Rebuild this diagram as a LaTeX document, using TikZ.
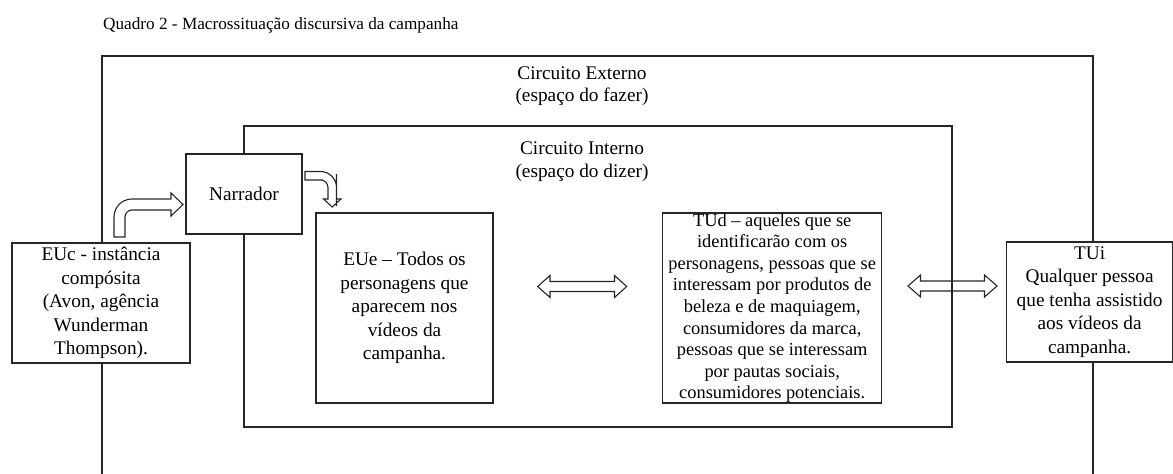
\documentclass[tikz,border=0pt]{standalone}
\usepackage{fontspec}
\setmainfont{Liberation Serif}
\definecolor{ln}{HTML}{262626}
\begin{document}
\begin{tikzpicture}[x=1pt,y=-1pt,
  frame/.style={draw=ln,line width=1.5pt},
  box/.style={draw=ln,fill=white,line width=1.5pt,inner sep=0pt,align=center,
    font=\fontsize{19.3}{23.4}\selectfont},
  lbl/.style={inner sep=0pt,align=center,font=\fontsize{19.3}{22.5}\selectfont},
  blockarrow/.style={draw=ln,line width=1.1pt,line join=miter}]
\useasboundingbox (0,0) rectangle (1173,474);
% title
\node[anchor=base west,inner sep=0pt,font=\fontsize{17.2}{20}\selectfont] (title) at (103,29)
  {Quadro 2 - Macrossituação discursiva da campanha};
% outer circuit (open at the bottom)
\draw[frame] (102,476) -- (102,56) -- (1093,56) -- (1093,476);
% inner circuit
\draw[frame] (244,126) rectangle (952,427);
\node[lbl] (ext) at (582,86) {Circuito Externo\\(espaço do fazer)};
\node[lbl] (int) at (582,161.5) {Circuito Interno\\(espaço do dizer)};
% boxes
\node[box,minimum width=178pt,minimum height=120pt] (euc) at (101,303)
  {EUc - instância\\compósita\\(Avon, agência\\Wunderman\\Thompson).};
\node[box,minimum width=116pt,minimum height=80pt] (nar) at (244,194) {Narrador};
\node[box,minimum width=177pt,minimum height=190pt] (eue) at (404.5,308)
  {EUe – Todos os\\personagens que\\aparecem nos\\vídeos da\\campanha.};
\node[box,minimum width=219pt,minimum height=190pt,font=\fontsize{18.4}{21.6}\selectfont] (tud) at (772.2,308)
  {TUd – aqueles que se\\identificarão com os\\personagens, pessoas que se\\interessam por produtos de\\beleza e de maquiagem,\\consumidores da marca,\\pessoas que se interessam\\por pautas sociais,\\consumidores potenciais.};
\node[box,minimum width=166pt,minimum height=120pt] (tui) at (1089.6,302)
  {TUi\\Qualquer pessoa\\que tenha assistido\\aos vídeos da\\campanha.};
% bent arrow EUc -> Narrador
\draw[blockarrow] (114,237) [rounded corners=18pt] -- (114,199) -- (150,199) [sharp corners]
  -- (171,199) -- (171,193) -- (183,204.5) -- (171,216) -- (171,210) -- (150,210)
  [rounded corners=7pt] -- (125,210) -- (125,225) [sharp corners] -- (125,237) -- cycle;
% bent arrow Narrador -> EUe
\draw[blockarrow] (305,171.5) [rounded corners=16pt] -- (336.5,171.5) -- (336.5,190) [sharp corners]
  -- (336.5,199) -- (341,199) -- (332.25,207) -- (323.5,199) -- (328,199) -- (328,190)
  [rounded corners=7.5pt] -- (328,180) -- (315,180) [sharp corners] -- (305,180) -- cycle;
% double arrow EUe <-> TUd
\draw[blockarrow] (537.7,286.5) -- (550,275.5) -- (550,281.5) -- (614.5,281.5) -- (614.5,275.5)
  -- (626.7,286.5) -- (614.5,297.5) -- (614.5,291.5) -- (550,291.5) -- (550,297.5) -- cycle;
% double arrow TUd <-> TUi
\draw[blockarrow] (908,286) -- (920.5,275) -- (920.5,281) -- (984.5,281) -- (984.5,275)
  -- (997,286) -- (984.5,297) -- (984.5,291) -- (920.5,291) -- (920.5,297) -- cycle;
\end{tikzpicture}
\end{document}
